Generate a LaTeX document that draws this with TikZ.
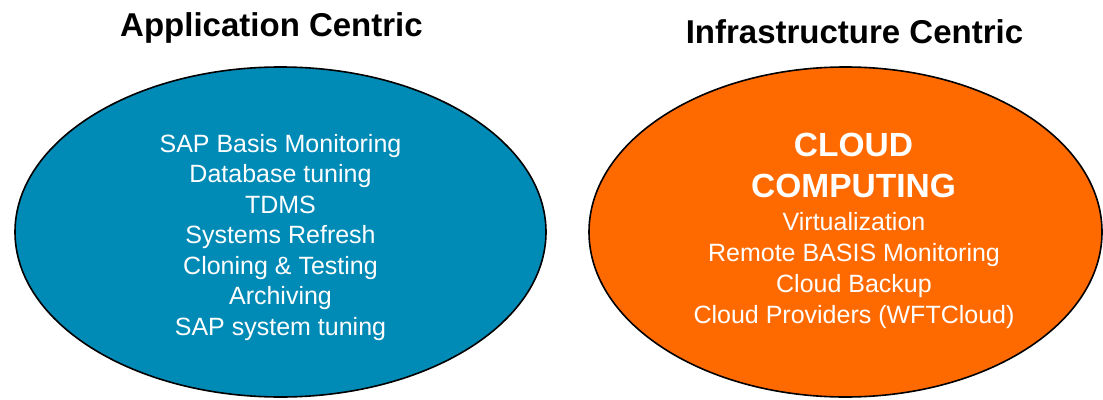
\documentclass[tikz,border=0pt]{standalone}
\usepackage{fontspec}
\setmainfont{Liberation Sans}
\usetikzlibrary{shapes.geometric}
\definecolor{appblue}{RGB}{0,138,182}
\definecolor{infraorange}{RGB}{255,106,0}
\tikzset{
  blob/.style={ellipse, draw=black, line width=1.6pt, inner sep=0pt},
  heading/.style={anchor=base, inner sep=0pt, text=black,
    font=\fontsize{33}{40}\selectfont\bfseries},
  item/.style={anchor=base, inner sep=0pt, text=white,
    font=\fontsize{25}{30}\selectfont},
  bigitem/.style={anchor=base, inner sep=0pt, text=white,
    font=\fontsize{33.5}{40}\selectfont\bfseries},
}
\begin{document}
\begin{tikzpicture}[x=1pt,y=-1pt]
\useasboundingbox (0,0) rectangle (1103,399);

% headings
\node[heading] (titleApp) at (271.5,36.5) {Application Centric};
\node[heading] (titleInfra) at (854.5,43.5) {Infrastructure Centric};

% the two ellipses
\node[blob, fill=appblue, minimum width=531pt, minimum height=330pt] (app) at (280.5,232) {};
\node[blob, fill=infraorange, minimum width=513pt, minimum height=330pt] (infra) at (845.5,232) {};

% application centric items
\foreach \t [count=\i] in {SAP Basis Monitoring, Database tuning, TDMS,
    Systems Refresh, Cloning \& Testing, Archiving, SAP system tuning}
  \node[item] (appItem\i) at (280.5,{152+30.5*(\i-1)}) {\t};

% infrastructure centric items
\node[bigitem] (cloud) at (853.5,156) {CLOUD};
\node[bigitem] (computing) at (853.5,197) {COMPUTING};
\foreach \t [count=\i] in {Virtualization, Remote BASIS Monitoring,
    Cloud Backup, Cloud Providers (WFTCloud)}
  \node[item] (infraItem\i) at (854,{230+31*(\i-1)}) {\t};
\end{tikzpicture}
\end{document}
